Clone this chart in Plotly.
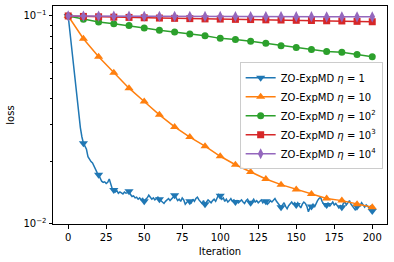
import plotly.graph_objects as go

iterations = list(range(201))
marker_iters = list(range(0, 201, 10))

loss_eta1 = [
    0.1000, 0.0850, 0.0720, 0.0610, 0.0520, 0.0445, 0.0385, 0.0330, 0.0290, 0.0262,
    0.0244, 0.0236, 0.0228, 0.0210, 0.0204, 0.0199, 0.0196, 0.0188, 0.0181, 0.0176,
    0.0172, 0.0164, 0.0160, 0.0158, 0.0159, 0.0156, 0.0158, 0.0164, 0.0155, 0.0147,
    0.0145, 0.0142, 0.0144, 0.0140, 0.0142, 0.0141, 0.0139, 0.0142, 0.0140, 0.0141,
    0.0143, 0.0138, 0.0135, 0.0136, 0.0133, 0.0134, 0.0131, 0.0133, 0.0130, 0.0132,
    0.0128, 0.0131, 0.0133, 0.0137, 0.0134, 0.0131, 0.0133, 0.0130, 0.0132, 0.0134,
    0.0131, 0.0129, 0.0127, 0.0125, 0.0128, 0.0130, 0.0132, 0.0129, 0.0131, 0.0134,
    0.0137, 0.0133, 0.0129, 0.0131, 0.0128, 0.0133, 0.0130, 0.0124, 0.0127, 0.0129,
    0.0128, 0.0126, 0.0131, 0.0128, 0.0132, 0.0134, 0.0130, 0.0127, 0.0125, 0.0129,
    0.0124, 0.0127, 0.0130, 0.0128, 0.0126, 0.0129, 0.0131, 0.0128, 0.0133, 0.0138,
    0.0136, 0.0131, 0.0133, 0.0128, 0.0131, 0.0127, 0.0129, 0.0132, 0.0128, 0.0130,
    0.0127, 0.0129, 0.0126, 0.0128, 0.0130, 0.0127, 0.0125, 0.0129, 0.0131, 0.0127,
    0.0126, 0.0128, 0.0131, 0.0127, 0.0129, 0.0126, 0.0128, 0.0130, 0.0126, 0.0129,
    0.0128, 0.0124, 0.0126, 0.0129, 0.0127, 0.0130, 0.0132, 0.0128, 0.0125, 0.0122,
    0.0120, 0.0123, 0.0126, 0.0121, 0.0118, 0.0122, 0.0125, 0.0127, 0.0124, 0.0126,
    0.0123, 0.0126, 0.0122, 0.0119, 0.0124, 0.0127, 0.0125, 0.0121, 0.0114, 0.0119,
    0.0121, 0.0124, 0.0120, 0.0126, 0.0129, 0.0132, 0.0134, 0.0128, 0.0124, 0.0121,
    0.0123, 0.0126, 0.0121, 0.0124, 0.0127, 0.0123, 0.0125, 0.0122, 0.0119, 0.0122,
    0.0120, 0.0125, 0.0127, 0.0123, 0.0126, 0.0129, 0.0124, 0.0121, 0.0118, 0.0116,
    0.0121, 0.0124, 0.0122, 0.0126, 0.0123, 0.0120, 0.0123, 0.0121, 0.0119, 0.0122,
    0.0115,
]

loss_eta10 = [0.1000, 0.0777, 0.0636, 0.0532, 0.0449, 0.0387, 0.0334, 0.0292, 0.0261, 0.0236,
              0.0211, 0.0192, 0.0177, 0.0164, 0.0154, 0.0146, 0.0139, 0.0132, 0.0129, 0.0124, 0.0120]
loss_eta1e2 = [0.1000, 0.0964, 0.0935, 0.0918, 0.0900, 0.0875, 0.0853, 0.0837, 0.0819, 0.0803,
               0.0780, 0.0771, 0.0755, 0.0738, 0.0719, 0.0704, 0.0690, 0.0675, 0.0668, 0.0653, 0.0636]
loss_eta1e3 = [0.1000, 0.0995, 0.0991, 0.0987, 0.0984, 0.0980, 0.0977, 0.0974, 0.0971, 0.0968,
               0.0966, 0.0963, 0.0961, 0.0958, 0.0956, 0.0953, 0.0951, 0.0948, 0.0946, 0.0942, 0.0938]
loss_eta1e4 = [0.1000, 0.0999, 0.0999, 0.0998, 0.0998, 0.0997, 0.0997, 0.0996, 0.0996, 0.0995,
               0.0995, 0.0994, 0.0994, 0.0993, 0.0993, 0.0992, 0.0992, 0.0991, 0.0991, 0.0990, 0.0990]

names = ["ZO-ExpMD <i>η</i> = 1", "ZO-ExpMD <i>η</i> = 10", "ZO-ExpMD <i>η</i> = 10<sup>2</sup>",
         "ZO-ExpMD <i>η</i> = 10<sup>3</sup>", "ZO-ExpMD <i>η</i> = 10<sup>4</sup>"]
colors = ["#1f77b4", "#ff7f0e", "#2ca02c", "#d62728", "#9467bd"]
symbols = ["triangle-down", "triangle-up", "circle", "square", "diamond-tall"]

fig = go.Figure()

# blue: dense line + markers every 10
marker_vals_eta1 = [loss_eta1[i] for i in marker_iters]
fig.add_trace(go.Scatter(x=iterations, y=loss_eta1, mode="lines",
                         line=dict(color=colors[0], width=1.5), showlegend=False, hoverinfo="skip"))
fig.add_trace(go.Scatter(x=marker_iters, y=marker_vals_eta1, mode="markers", name=names[0],
                         marker=dict(symbol=symbols[0], size=8, color=colors[0]),
                         showlegend=False))
# legend proxy for blue
fig.add_trace(go.Scatter(x=[None], y=[None], mode="lines+markers", name=names[0], legendgroup="g0",
                         marker=dict(symbol=symbols[0], size=8, color=colors[0]),
                         line=dict(color=colors[0], width=1.5)))

for k, (ys, nm, c, s) in enumerate(zip([loss_eta10, loss_eta1e2, loss_eta1e3, loss_eta1e4],
                                       names[1:], colors[1:], symbols[1:])):
    size = 7 if s in ("circle", "square") else 8
    fig.add_trace(go.Scatter(x=marker_iters, y=ys, mode="lines+markers", name=nm,
                             legendgroup=f"g{k+1}",
                             marker=dict(symbol=s, size=size, color=c),
                             line=dict(color=c, width=1.5)))

axis_common = dict(showline=True, linecolor="black", linewidth=1, mirror=True,
                   ticks="outside", ticklen=3.5, tickwidth=1, tickcolor="black",
                   showgrid=False, zeroline=False, automargin=False,
                   tickfont=dict(family="DejaVu Sans", size=10, color="black"))

fig.update_layout(
    width=394, height=262,
    margin=dict(l=53, r=7, t=6, b=38),
    paper_bgcolor="white", plot_bgcolor="white",
    font=dict(family="DejaVu Sans", size=10, color="black"),
    xaxis=dict(range=[-10, 209.7], tickvals=[0, 25, 50, 75, 100, 125, 150, 175, 200],
               title=dict(text="Iteration", standoff=6, font=dict(size=10)), **axis_common),
    yaxis=dict(type="log", range=[-2.002, -0.952], tickvals=[0.01, 0.1],
               ticktext=["10<sup>−2</sup>", "10<sup>−1</sup>"],
               minor=dict(ticks="outside", ticklen=2, tickcolor="black",
                          tickvals=[0.02, 0.03, 0.04, 0.05, 0.06, 0.07, 0.08, 0.09]),
               title=dict(text="loss", standoff=6, font=dict(size=10)), **axis_common),
    legend=dict(x=0.987, y=0.742, xanchor="right", yanchor="top",
                bgcolor="rgba(255,255,255,0.8)", bordercolor="#cccccc", borderwidth=1,
                font=dict(family="DejaVu Sans", size=10, color="black"),
                itemwidth=30, tracegroupgap=0),
)

fig.write_html("out.html", config={"displayModeBar": False},
               post_script="document.body.style.margin='0';")
